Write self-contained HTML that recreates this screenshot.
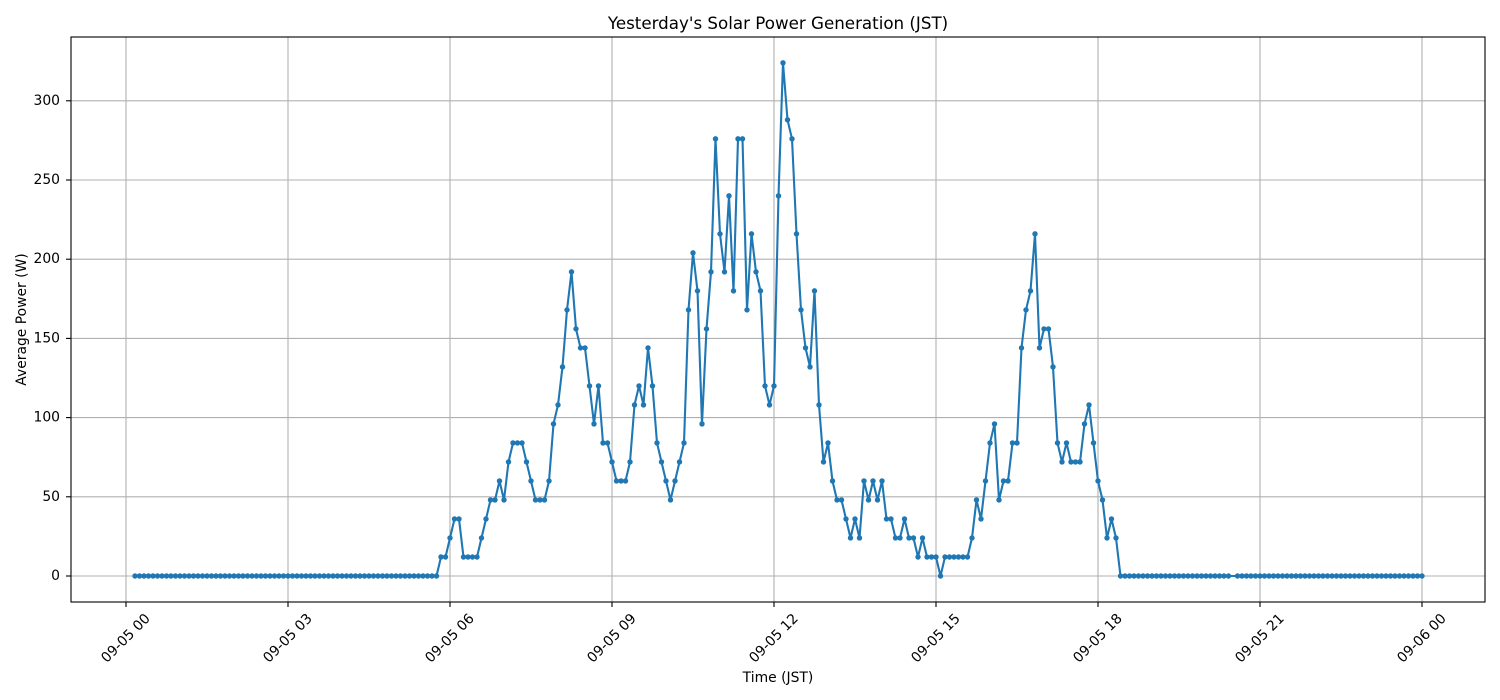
<!DOCTYPE html>
<html><head><meta charset="utf-8"><style>
html,body{margin:0;padding:0;background:#fff;}
svg{display:block;}
text{font-family:"DejaVu Sans","Liberation Sans",sans-serif;fill:#000;}
</style></head><body>
<svg width="1500" height="700" viewBox="0 0 1500 700" xmlns="http://www.w3.org/2000/svg">
<defs>
<marker id="dot" markerUnits="userSpaceOnUse" markerWidth="8" markerHeight="8" refX="4" refY="4" viewBox="0 0 8 8">
<circle cx="4" cy="4" r="2.7" fill="#1f77b4"/>
</marker>
</defs>
<rect width="1500" height="700" fill="#fff"/>
<!-- grid -->
<g stroke="#b0b0b0" stroke-width="1.1">
<line x1="126" y1="37" x2="126" y2="602"/>
<line x1="288" y1="37" x2="288" y2="602"/>
<line x1="450" y1="37" x2="450" y2="602"/>
<line x1="612" y1="37" x2="612" y2="602"/>
<line x1="774" y1="37" x2="774" y2="602"/>
<line x1="936" y1="37" x2="936" y2="602"/>
<line x1="1098" y1="37" x2="1098" y2="602"/>
<line x1="1260" y1="37" x2="1260" y2="602"/>
<line x1="1422" y1="37" x2="1422" y2="602"/>
<line x1="71" y1="576" x2="1485" y2="576"/>
<line x1="71" y1="496.8" x2="1485" y2="496.8"/>
<line x1="71" y1="417.6" x2="1485" y2="417.6"/>
<line x1="71" y1="338.4" x2="1485" y2="338.4"/>
<line x1="71" y1="259.2" x2="1485" y2="259.2"/>
<line x1="71" y1="180" x2="1485" y2="180"/>
<line x1="71" y1="100.8" x2="1485" y2="100.8"/>
</g>
<!-- series -->
<path fill="none" stroke="#1f77b4" stroke-width="2.1" stroke-linejoin="round" marker-start="url(#dot)" marker-mid="url(#dot)" marker-end="url(#dot)" d="M135,576 h4.5 h4.5 h4.5 h4.5 h4.5 h4.5 h4.5 h4.5 h4.5 h4.5 h4.5 h4.5 h4.5 h4.5 h4.5 h4.5 h4.5 h4.5 h4.5 h4.5 h4.5 h4.5 h4.5 h4.5 h4.5 h4.5 h4.5 h4.5 h4.5 h4.5 h4.5 h4.5 h4.5 h4.5 h4.5 h4.5 h4.5 h4.5 h4.5 h4.5 h4.5 h4.5 h4.5 h4.5 h4.5 h4.5 h4.5 h4.5 h4.5 h4.5 h4.5 h4.5 h4.5 h4.5 h4.5 h4.5 h4.5 h4.5 h4.5 h4.5 h4.5 h4.5 h4.5 h4.5 h4.5 h4.5 h4.5
L441,556.99 L445.5,556.99 L450,537.98 L454.5,518.98 L459,518.98 L463.5,556.99 L468,556.99 L472.5,556.99 L477,556.99 L481.5,537.98 L486,518.98 L490.5,499.97 L495,499.97 L499.5,480.96 L504,499.97 L508.5,461.95 L513,442.94 L517.5,442.94 L522,442.94 L526.5,461.95 L531,480.96 L535.5,499.97 L540,499.97 L544.5,499.97 L549,480.96 L553.5,423.94 L558,404.93 L562.5,366.91 L567,309.89 L571.5,271.87 L576,328.9 L580.5,347.9 L585,347.9 L589.5,385.92 L594,423.94 L598.5,385.92 L603,442.94 L607.5,442.94 L612,461.95 L616.5,480.96 L621,480.96 L625.5,480.96 L630,461.95 L634.5,404.93 L639,385.92 L643.5,404.93 L648,347.9 L652.5,385.92 L657,442.94 L661.5,461.95 L666,480.96 L670.5,499.97 L675,480.96 L679.5,461.95 L684,442.94 L688.5,309.89 L693,252.86 L697.5,290.88 L702,423.94 L706.5,328.9 L711,271.87 L715.5,138.82 L720,233.86 L724.5,271.87 L729,195.84 L733.5,290.88 L738,138.82 L742.5,138.82 L747,309.89 L751.5,233.86 L756,271.87 L760.5,290.88 L765,385.92 L769.5,404.93 L774,385.92 L778.5,195.84 L783,62.78 L787.5,119.81 L792,138.82 L796.5,233.86 L801,309.89 L805.5,347.9 L810,366.91 L814.5,290.88 L819,404.93 L823.5,461.95 L828,442.94 L832.5,480.96 L837,499.97 L841.5,499.97 L846,518.98 L850.5,537.98 L855,518.98 L859.5,537.98 L864,480.96 L868.5,499.97 L873,480.96 L877.5,499.97 L882,480.96 L886.5,518.98 L891,518.98 L895.5,537.98 L900,537.98 L904.5,518.98 L909,537.98 L913.5,537.98 L918,556.99 L922.5,537.98 L927,556.99 L931.5,556.99 L936,556.99 L940.5,576 L945,556.99 L949.5,556.99 L954,556.99 L958.5,556.99 L963,556.99 L967.5,556.99 L972,537.98 L976.5,499.97 L981,518.98 L985.5,480.96 L990,442.94 L994.5,423.94 L999,499.97 L1003.5,480.96 L1008,480.96 L1012.5,442.94 L1017,442.94 L1021.5,347.9 L1026,309.89 L1030.5,290.88 L1035,233.86 L1039.5,347.9 L1044,328.9 L1048.5,328.9 L1053,366.91 L1057.5,442.94 L1062,461.95 L1066.5,442.94 L1071,461.95 L1075.5,461.95 L1080,461.95 L1084.5,423.94 L1089,404.93 L1093.5,442.94 L1098,480.96 L1102.5,499.97 L1107,537.98 L1111.5,518.98 L1116,537.98 L1120.5,576
h4.5 h4.5 h4.5 h4.5 h4.5 h4.5 h4.5 h4.5 h4.5 h4.5 h4.5 h4.5 h4.5 h4.5 h4.5 h4.5 h4.5 h4.5 h4.5 h4.5 h4.5 h4.5 h4.5 h4.5 h9
h4.5 h4.5 h4.5 h4.5 h4.5 h4.5 h4.5 h4.5 h4.5 h4.5 h4.5 h4.5 h4.5 h4.5 h4.5 h4.5 h4.5 h4.5 h4.5 h4.5 h4.5 h4.5 h4.5 h4.5 h4.5 h4.5 h4.5 h4.5 h4.5 h4.5 h4.5 h4.5 h4.5 h4.5 h4.5 h4.5 h4.5 h4.5 h4.5 h4.5 h4.5"/>
<!-- spines -->
<rect x="71" y="37" width="1414" height="565" fill="none" stroke="#000" stroke-width="1.1"/>
<!-- ticks -->
<g stroke="#000" stroke-width="1.1">
<line x1="126" y1="602" x2="126" y2="607"/>
<line x1="288" y1="602" x2="288" y2="607"/>
<line x1="450" y1="602" x2="450" y2="607"/>
<line x1="612" y1="602" x2="612" y2="607"/>
<line x1="774" y1="602" x2="774" y2="607"/>
<line x1="936" y1="602" x2="936" y2="607"/>
<line x1="1098" y1="602" x2="1098" y2="607"/>
<line x1="1260" y1="602" x2="1260" y2="607"/>
<line x1="1422" y1="602" x2="1422" y2="607"/>
<line x1="66" y1="576" x2="71" y2="576"/>
<line x1="66" y1="496.8" x2="71" y2="496.8"/>
<line x1="66" y1="417.6" x2="71" y2="417.6"/>
<line x1="66" y1="338.4" x2="71" y2="338.4"/>
<line x1="66" y1="259.2" x2="71" y2="259.2"/>
<line x1="66" y1="180" x2="71" y2="180"/>
<line x1="66" y1="100.8" x2="71" y2="100.8"/>
</g>
<!-- y tick labels -->
<g font-size="13.9" text-anchor="end" dominant-baseline="central">
<text x="60" y="576">0</text>
<text x="60" y="496.8">50</text>
<text x="60" y="417.6">100</text>
<text x="60" y="338.4">150</text>
<text x="60" y="259.2">200</text>
<text x="60" y="180">250</text>
<text x="60" y="100.8">300</text>
</g>
<!-- x tick labels -->
<g font-size="13.9" text-anchor="middle" dominant-baseline="central">
<text transform="translate(126,638.5) rotate(-45)">09-05 00</text>
<text transform="translate(288,638.5) rotate(-45)">09-05 03</text>
<text transform="translate(450,638.5) rotate(-45)">09-05 06</text>
<text transform="translate(612,638.5) rotate(-45)">09-05 09</text>
<text transform="translate(774,638.5) rotate(-45)">09-05 12</text>
<text transform="translate(936,638.5) rotate(-45)">09-05 15</text>
<text transform="translate(1098,638.5) rotate(-45)">09-05 18</text>
<text transform="translate(1260,638.5) rotate(-45)">09-05 21</text>
<text transform="translate(1422,638.5) rotate(-45)">09-06 00</text>
</g>
<!-- axis labels -->
<text x="778" y="682" font-size="13.9" text-anchor="middle">Time (JST)</text>
<text transform="translate(26,319.5) rotate(-90)" font-size="13.9" text-anchor="middle">Average Power (W)</text>
<text x="778" y="29" font-size="16.7" text-anchor="middle">Yesterday's Solar Power Generation (JST)</text>
</svg>
</body></html>
